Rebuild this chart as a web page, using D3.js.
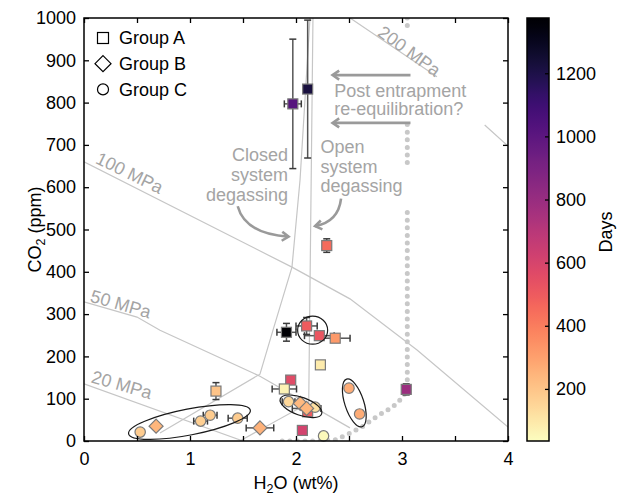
<!DOCTYPE html>
<html><head><meta charset="utf-8">
<script src="https://cdn.jsdelivr.net/npm/d3@7"></script>
<style>
body{margin:0;background:#fff}
text{font-family:"Liberation Sans",Arial,Helvetica,sans-serif}
</style>
</head><body>
<svg id="c" width="618" height="495"></svg>
<script>
// ---------------- DATA ----------------
// Group A (squares)
const groupA_h2o = [1.97, 2.11, 2.29, 1.91, 2.10, 2.22, 2.37, 2.23, 1.95, 1.89, 1.245, 2.06, 3.04, 2.11];
const groupA_co2 = [797, 832, 462, 257, 272, 249, 243, 180, 144, 123, 118, 25, 122, 69];
const groupA_days = [1020, 1220, 450, 1370, 500, 520, 320, 90, 560, 70, 200, 610, 790, 500];
const groupA_xerr = [0.08, 0, 0, 0.09, 0.10, 0.14, 0.14, 0, 0, 0.115, 0, 0, 0, 0];
const groupA_yerr = [153, 163, 16, 21, 20, 0, 0, 0, 0, 0, 20, 0, 13, 0];
// Group B (diamonds)
const groupB_h2o = [0.68, 1.66, 2.04, 2.10];
const groupB_co2 = [35, 31, 89, 77];
const groupB_days = [240, 250, 230, 240];
const groupB_xerr = [0, 0.13, 0, 0.135];
const groupB_yerr = [0, 0, 0, 0];
// Group C (circles)
const groupC_h2o = [0.53, 1.10, 1.19, 1.45, 1.93, 2.18, 2.26, 2.50, 2.60];
const groupC_co2 = [21, 47, 61, 54, 93, 80, 12, 125, 64];
const groupC_days = [180, 170, 180, 180, 140, 120, 50, 270, 270];
const groupC_xerr = [0, 0.065, 0.065, 0.09, 0.06, 0, 0, 0, 0];
const groupC_yerr = [0, 0, 0, 0, 0, 0, 0, 0, 0];

// Isobars / degassing paths [H2O, CO2]
const isobar200 = [[2.51,1000],[3.33,861],null,[3.78,747],[4.0,697]];
const isobar100 = [[0,660],[1.962,411],[2.509,336],[3.142,215],[4.0,33]];
const isobar50  = [[0,329],[0.5,293],[0.717,262],[1.66,153],[2.509,31]];
const isobar20  = [[0,135],[1.5,0]];
const closedPath = [[2.132,1000],[2.038,617],[1.962,411],[1.783,262],[1.66,158],[0.717,19]];
const openPath   = [[2.16,1000],[2.12,90],[1.47,0]];
const reequilPath = [[3.05,1000],[3.05,976],null,[3.05,748],[3.05,652],null,
  [3.05,540],[3.05,125],[3.01,104],[2.91,80],[2.78,61],[2.62,33],[2.49,16],[2.37,3],[2.2,0],[1.85,0]];

const xTicks = [0,1,2,3,4];
const yTicks = [0,100,200,300,400,500,600,700,800,900,1000];
const cbTicks = [200,400,600,800,1000,1200];
const legendLabels = ["Group A","Group B","Group C"];

// ---------------- CHART ----------------
const svg = d3.select("#c");
const x = d3.scaleLinear().domain([0,4]).range([84,508]);
const y = d3.scaleLinear().domain([0,1000]).range([441,18]);
const daysDomain = [35,1375];
const cs = d3.scaleSequential(t=>d3.interpolateMagma(1-t)).domain(daysDomain);
const line = d3.line().defined(d=>d!==null).x(d=>x(d[0])).y(d=>y(d[1]));

svg.append("rect").attr("width",618).attr("height",495).attr("fill","#fff");
svg.append("defs").append("clipPath").attr("id","pc").append("rect")
  .attr("x",x(0)).attr("y",y(1000)).attr("width",x(4)-x(0)).attr("height",y(0)-y(1000));

const plot = svg.append("g").attr("clip-path","url(#pc)");
const LG = "#c6c6c6";
[isobar200,isobar100,isobar50,isobar20,closedPath,openPath].forEach(p=>{
  plot.append("path").attr("d",line(p)).attr("fill","none").attr("stroke",LG).attr("stroke-width",1.2);
});
plot.append("path").attr("d",line(reequilPath)).attr("fill","none").attr("stroke","#c8c8c8")
  .attr("stroke-width",5).attr("stroke-linecap","round").attr("stroke-dasharray","0 7.6");

// isobar labels
const TG = "#a4a4a4";
const mpa = [["200 MPa",2.76,960,36],["100 MPa",0.1,658,26],["50 MPa",0.05,330,16],["20 MPa",0.06,139,16]];
mpa.forEach(([t,hx,cy,a])=>{
  svg.append("text").attr("transform",`translate(${x(hx)},${y(cy)}) rotate(${a})`)
    .attr("font-size",18).attr("fill",TG).text(t);
});

// annotations
const AG = "#9a9a9a";
function chevron(g,px,py,ang){
  const s=8, w=0.6;
  const p1=[px-s*Math.cos(ang-w), py-s*Math.sin(ang-w)];
  const p2=[px-s*Math.cos(ang+w), py-s*Math.sin(ang+w)];
  g.append("path").attr("d",`M${p1}L${px},${py}L${p2}`).attr("fill","none")
   .attr("stroke",AG).attr("stroke-width",2.6).attr("stroke-linejoin","miter").attr("stroke-linecap","butt");
}
const ann = svg.append("g");
[[865],[752]].forEach(([c])=>{
  ann.append("line").attr("x1",x(3.08)).attr("x2",x(2.35)).attr("y1",y(c)).attr("y2",y(c))
    .attr("stroke",AG).attr("stroke-width",2.6);
  chevron(ann,x(2.345),y(c),Math.PI);
});
const pt = ann.append("text").attr("font-size",18).attr("fill",TG);
pt.append("tspan").attr("x",x(2.36)).attr("y",y(813)).text("Post entrapment");
pt.append("tspan").attr("x",x(2.36)).attr("y",y(770)).text("re-equilibration?");
const ct = ann.append("text").attr("font-size",18).attr("fill",TG).attr("text-anchor","end");
[["Closed",661],["system",614],["degassing",567]].forEach(([t,c])=>ct.append("tspan").attr("x",x(1.925)).attr("y",y(c)).text(t));
const ot = ann.append("text").attr("font-size",18).attr("fill",TG);
[["Open",681],["system",634],["degassing",589]].forEach(([t,c])=>ot.append("tspan").attr("x",x(2.23)).attr("y",y(c)).text(t));
// curved arrows
{
  const s=[x(1.45),y(555)], c=[x(1.52),y(490)], e=[x(1.93),y(483)];
  ann.append("path").attr("d",`M${s}Q${c} ${e}`).attr("fill","none").attr("stroke",AG).attr("stroke-width",2.6);
  chevron(ann,e[0],e[1],Math.atan2(e[1]-c[1],e[0]-c[0]));
  const s2=[x(2.425),y(573)], c2=[x(2.40),y(518)], e2=[x(2.18),y(508)];
  ann.append("path").attr("d",`M${s2}Q${c2} ${e2}`).attr("fill","none").attr("stroke",AG).attr("stroke-width",2.6);
  chevron(ann,e2[0],e2[1],Math.atan2(e2[1]-c2[1],e2[0]-c2[0]));
}

// error bars + markers
function build(h,c,d,xe,ye){ return h.map((v,i)=>({h:v,c:c[i],d:d[i],xe:xe[i],ye:ye[i]})); }
const A = build(groupA_h2o,groupA_co2,groupA_days,groupA_xerr,groupA_yerr);
const B = build(groupB_h2o,groupB_co2,groupB_days,groupB_xerr,groupB_yerr);
const C = build(groupC_h2o,groupC_co2,groupC_days,groupC_xerr,groupC_yerr);
const eb = svg.append("g").attr("stroke","#3a3a3a").attr("stroke-width",1.5);
const cap = 3.5;
function errbars(arr){
  arr.forEach(p=>{
    const px=x(p.h), py=y(p.c);
    if(p.xe>0){
      const a=x(p.h-p.xe), b=x(p.h+p.xe);
      eb.append("line").attr("x1",a).attr("x2",b).attr("y1",py).attr("y2",py).attr("stroke","#555");
      eb.append("line").attr("x1",a).attr("x2",a).attr("y1",py-cap).attr("y2",py+cap);
      eb.append("line").attr("x1",b).attr("x2",b).attr("y1",py-cap).attr("y2",py+cap);
    }
    if(p.ye>0){
      const a=y(p.c-p.ye), b=y(p.c+p.ye);
      eb.append("line").attr("x1",px).attr("x2",px).attr("y1",a).attr("y2",b).attr("stroke","#555");
      eb.append("line").attr("x1",px-cap).attr("x2",px+cap).attr("y1",a).attr("y2",a);
      eb.append("line").attr("x1",px-cap).attr("x2",px+cap).attr("y1",b).attr("y2",b);
    }
  });
}
errbars(A); errbars(C); errbars(B);
const mk = svg.append("g").attr("stroke","#7a7a7a").attr("stroke-width",1.2);
const sq = 10;
mk.selectAll(".a").data(A).join("rect").attr("x",p=>x(p.h)-sq/2).attr("y",p=>y(p.c)-sq/2)
  .attr("width",sq).attr("height",sq).attr("fill",p=>cs(p.d));
mk.selectAll(".c").data(C).join("circle").attr("cx",p=>x(p.h)).attr("cy",p=>y(p.c)).attr("r",5.2)
  .attr("fill",p=>cs(p.d));
const dg = 7;
mk.selectAll(".b").data(B).join("path")
  .attr("d",p=>{const px=x(p.h),py=y(p.c);return `M${px},${py-dg}L${px+dg},${py}L${px},${py+dg}L${px-dg},${py}Z`;})
  .attr("fill",p=>cs(p.d));

// ellipses
const ellipses = [[2.157,262,15,14,0],[0.995,45,62,13,-11],[2.047,82,22,9,20],[2.55,90,9.5,25,-18]];
ellipses.forEach(([h,c,rx,ry,r])=>{
  svg.append("ellipse").attr("transform",`translate(${x(h)},${y(c)}) rotate(${r})`)
    .attr("rx",rx).attr("ry",ry).attr("fill","none").attr("stroke","#1a1a1a").attr("stroke-width",1.2);
});

// axes
const ax = svg.append("g");
function styleAxis(g){ g.select(".domain").remove(); g.selectAll("line").attr("stroke","#000").attr("stroke-width",1.3);
  g.selectAll("text").attr("font-size",18).attr("fill","#000").attr("font-family",'"Liberation Sans",Arial,sans-serif'); }
ax.append("g").attr("transform",`translate(0,${y(0)})`)
  .call(d3.axisBottom(x).tickValues(d3.range(0,4.01,0.5)).tickSize(-5).tickPadding(11)
  .tickFormat(d=>xTicks.includes(d)?d3.format("d")(d):"")).call(styleAxis);
ax.append("g").attr("transform",`translate(0,${y(1000)})`)
  .call(d3.axisTop(x).tickValues(d3.range(0,4.01,0.5)).tickSize(-5).tickFormat("")).call(styleAxis);
ax.append("g").attr("transform",`translate(${x(0)},0)`)
  .call(d3.axisLeft(y).tickValues(yTicks).tickSize(-5).tickPadding(8).tickFormat(d3.format("d"))).call(styleAxis);
ax.append("g").attr("transform",`translate(${x(4)},0)`)
  .call(d3.axisRight(y).tickValues(yTicks).tickSize(-5).tickFormat("")).call(styleAxis);
svg.append("rect").attr("x",x(0)).attr("y",y(1000)).attr("width",x(4)-x(0)).attr("height",y(0)-y(1000))
  .attr("fill","none").attr("stroke","#000").attr("stroke-width",1.5);

// axis titles
const xl = svg.append("text").attr("x",x(2)).attr("y",489).attr("text-anchor","middle").attr("font-size",18);
xl.append("tspan").text("H");
xl.append("tspan").attr("font-size",12.5).attr("dy",4).text("2");
xl.append("tspan").attr("dy",-4).text("O (wt%)");
const yl = svg.append("text").attr("transform",`translate(41,${(y(0)+y(1000))/2}) rotate(-90)`)
  .attr("text-anchor","middle").attr("font-size",18);
yl.append("tspan").text("CO");
yl.append("tspan").attr("font-size",12.5).attr("dy",4).text("2");
yl.append("tspan").attr("dy",-4).text(" (ppm)");

// legend
const lg = svg.append("g");
const lx = 103, ly0 = 38, ldy = 25.7;
lg.append("rect").attr("x",lx-5.5).attr("y",ly0-5.5).attr("width",11).attr("height",11)
  .attr("fill","#fff").attr("stroke","#000").attr("stroke-width",1.2);
lg.append("path").attr("d",`M${lx},${ly0+ldy-8}L${lx+8},${ly0+ldy}L${lx},${ly0+ldy+8}L${lx-8},${ly0+ldy}Z`)
  .attr("fill","#fff").attr("stroke","#000").attr("stroke-width",1.2);
lg.append("circle").attr("cx",lx).attr("cy",ly0+2*ldy).attr("r",5.5)
  .attr("fill","#fff").attr("stroke","#000").attr("stroke-width",1.2);
legendLabels.forEach((t,i)=>lg.append("text").attr("x",119).attr("y",ly0+i*ldy+6.3).attr("font-size",18).text(t));

// colorbar
const cy = d3.scaleLinear().domain(daysDomain).range([y(0),y(1000)]);
const grad = svg.select("defs").append("linearGradient").attr("id","cbg")
  .attr("x1",0).attr("y1",1).attr("x2",0).attr("y2",0);
d3.range(0,1.0001,0.02).forEach(o=>grad.append("stop").attr("offset",o)
  .attr("stop-color",cs(daysDomain[0]+o*(daysDomain[1]-daysDomain[0]))));
svg.append("rect").attr("x",527).attr("y",y(1000)).attr("width",22).attr("height",y(0)-y(1000))
  .attr("fill","url(#cbg)").attr("stroke","#000").attr("stroke-width",1.5);
svg.append("g").attr("transform","translate(549,0)")
  .call(d3.axisRight(cy).tickValues(cbTicks).tickSize(-4).tickPadding(7).tickFormat(d3.format("d"))).call(styleAxis);
svg.append("text").attr("transform",`translate(612,232) rotate(-90)`).attr("text-anchor","middle")
  .attr("font-size",18).text("Days");
</script>
</body></html>
